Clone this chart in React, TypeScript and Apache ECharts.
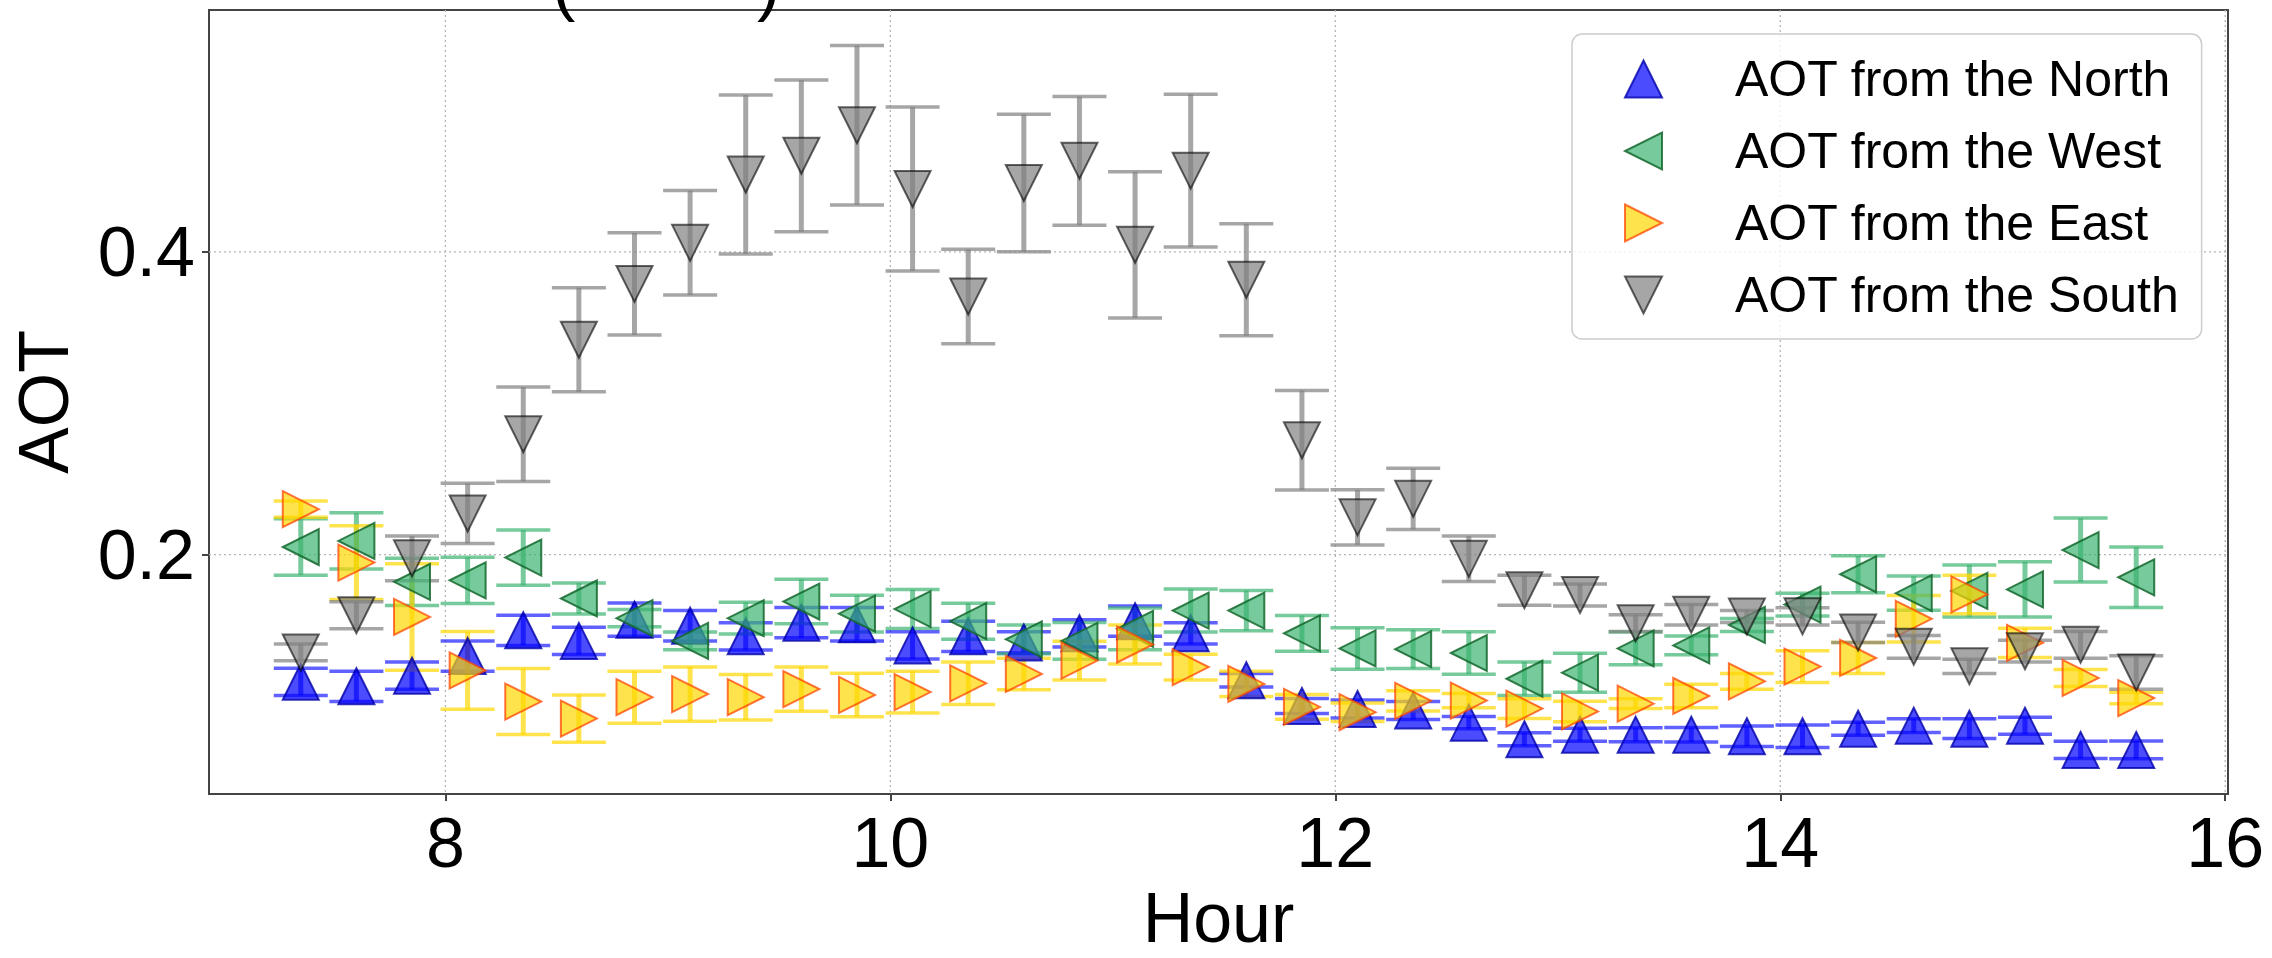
import React, { useEffect, useRef } from "react";
import * as echarts from "echarts";

// ---- Data ----
const hours = [7.35, 7.6, 7.85, 8.1, 8.35, 8.6, 8.85, 9.1, 9.35, 9.6, 9.85, 10.1, 10.35, 10.6, 10.85, 11.1, 11.35, 11.6, 11.85, 12.1, 12.35, 12.6, 12.85, 13.1, 13.35, 13.6, 13.85, 14.1, 14.35, 14.6, 14.85, 15.1, 15.35, 15.6];

const northAOT = [0.116, 0.113, 0.12, 0.133, 0.15, 0.143, 0.157, 0.153, 0.146, 0.155, 0.154, 0.14, 0.146, 0.142, 0.148, 0.156, 0.148, 0.117, 0.1, 0.098, 0.097, 0.089, 0.078, 0.081, 0.081, 0.081, 0.08, 0.08, 0.085, 0.087, 0.085, 0.087, 0.071, 0.071];
const northErr = [0.009, 0.01, 0.009, 0.01, 0.01, 0.009, 0.011, 0.01, 0.009, 0.01, 0.011, 0.009, 0.01, 0.007, 0.009, 0.01, 0.007, 0.0045, 0.005, 0.006, 0.006, 0.004, 0.0043, 0.0043, 0.0046, 0.0048, 0.0067, 0.0075, 0.0043, 0.0045, 0.0065, 0.0056, 0.0057, 0.0059];

const westAOT = [0.205, 0.209, 0.182, 0.183, 0.198, 0.171, 0.158, 0.143, 0.158, 0.169, 0.161, 0.164, 0.156, 0.144, 0.143, 0.151, 0.163, 0.163, 0.148, 0.138, 0.1375, 0.135, 0.118, 0.122, 0.138, 0.14, 0.1535, 0.167, 0.187, 0.1745, 0.176, 0.177, 0.203, 0.185];
const westErr = [0.0186, 0.0186, 0.0156, 0.0153, 0.0182, 0.0102, 0.0057, 0.0058, 0.0105, 0.0147, 0.0122, 0.0129, 0.0119, 0.0095, 0.0122, 0.0138, 0.0142, 0.0133, 0.0118, 0.0137, 0.0128, 0.014, 0.0111, 0.0129, 0.0108, 0.0062, 0.0043, 0.0075, 0.0122, 0.0113, 0.0172, 0.0183, 0.0211, 0.02];

const eastAOT = [0.23, 0.1947, 0.1588, 0.1235, 0.1029, 0.0917, 0.1058, 0.1079, 0.1058, 0.1112, 0.1073, 0.1092, 0.115, 0.1212, 0.13, 0.1406, 0.1257, 0.1146, 0.0994, 0.0959, 0.1034, 0.1036, 0.0983, 0.0964, 0.1015, 0.1066, 0.1163, 0.126, 0.1317, 0.1576, 0.1737, 0.1417, 0.1185, 0.1052];
const eastErr = [0.0054, 0.0244, 0.0352, 0.0257, 0.0218, 0.0156, 0.0172, 0.0179, 0.015, 0.0146, 0.0144, 0.0138, 0.014, 0.0104, 0.0128, 0.0129, 0.0085, 0.0084, 0.0082, 0.0061, 0.0067, 0.0047, 0.0065, 0.0068, 0.0032, 0.0077, 0.0052, 0.0105, 0.0102, 0.0153, 0.0127, 0.0097, 0.0056, 0.0038];

const southAOT = [0.1354, 0.1599, 0.1975, 0.2272, 0.2795, 0.3419, 0.3788, 0.4059, 0.451, 0.4634, 0.4836, 0.4415, 0.3705, 0.4454, 0.4601, 0.4046, 0.4536, 0.3815, 0.2755, 0.2246, 0.2368, 0.1972, 0.1765, 0.1733, 0.1547, 0.1603, 0.1591, 0.1592, 0.1486, 0.1391, 0.1262, 0.1362, 0.1404, 0.1221];
const southErr = [0.0055, 0.0089, 0.0147, 0.0199, 0.0312, 0.0344, 0.0337, 0.0345, 0.0525, 0.0501, 0.0527, 0.0542, 0.0312, 0.0454, 0.0425, 0.0483, 0.0504, 0.037, 0.0329, 0.0182, 0.0202, 0.015, 0.0099, 0.0073, 0.0055, 0.0068, 0.004, 0.0057, 0.0067, 0.0075, 0.0047, 0.0072, 0.0088, 0.011];

const seriesNames = ["AOT from the North", "AOT from the West", "AOT from the East", "AOT from the South"];
const xTicks = [8, 10, 12, 14, 16];
const yTicks = [0.2, 0.4];
const xRange = [6.9375, 16.0125];
const yRange = [0.0418, 0.5597];

// ---- Styles ----
const FONT = "'Liberation Sans', Arial, Helvetica, sans-serif";
const UP = "path://M5,0 L10,10 L0,10 Z";
const DOWN = "path://M0,0 L10,0 L5,10 Z";
const LEFT = "path://M10,0 L10,10 L0,5 Z";
const RIGHT = "path://M0,0 L10,5 L0,10 Z";

const styles = [
  { symbol: UP, fill: "rgba(0,0,255,0.7)", edge: "rgba(0,0,170,0.8)", bar: "rgba(0,0,255,0.62)" },
  { symbol: LEFT, fill: "rgba(60,179,113,0.7)", edge: "rgba(20,105,45,0.85)", bar: "rgba(60,179,113,0.7)" },
  { symbol: RIGHT, fill: "rgba(255,215,0,0.7)", edge: "rgba(255,69,0,0.75)", bar: "rgba(255,215,0,0.7)" },
  { symbol: DOWN, fill: "rgba(128,128,128,0.7)", edge: "rgba(0,0,0,0.6)", bar: "rgba(128,128,128,0.7)" },
];

function errRender(color: string) {
  return (params: any, api: any) => {
    const x = api.value(0);
    const y = api.value(1);
    const e = api.value(2);
    const top = api.coord([x, y + e]);
    const bot = api.coord([x, y - e]);
    const hw = 27;
    return {
      type: "group",
      children: [
        { type: "line", shape: { x1: top[0], y1: top[1], x2: bot[0], y2: bot[1] }, style: { stroke: color, lineWidth: 5 } },
        { type: "line", shape: { x1: top[0] - hw, y1: top[1], x2: top[0] + hw, y2: top[1] }, style: { stroke: color, lineWidth: 3.5 } },
        { type: "line", shape: { x1: bot[0] - hw, y1: bot[1], x2: bot[0] + hw, y2: bot[1] }, style: { stroke: color, lineWidth: 3.5 } },
      ],
    };
  };
}

export default function App() {
  const ref = useRef<HTMLDivElement>(null);

  useEffect(() => {
    if (!ref.current) return;
    const chart = echarts.init(ref.current, undefined, { renderer: "svg" });

    const values = [northAOT, westAOT, eastAOT, southAOT];
    const errs = [northErr, westErr, eastErr, southErr];

    const series: any[] = [];
    // grid lines (behind everything)
    series.push({
      type: "custom",
      name: "gridX",
      silent: true,
      z: 1,
      encode: { x: 0, y: 1 },
      data: xTicks.map((v) => [v, yRange[0]]),
      renderItem: (params: any, api: any) => {
        const cs = params.coordSys;
        const px = api.coord([api.value(0), api.value(1)])[0];
        return {
          type: "line",
          shape: { x1: px, y1: cs.y, x2: px, y2: cs.y + cs.height },
          style: { stroke: "#b5b5b5", lineWidth: 1.3, lineDash: [2, 3] },
        };
      },
    });
    series.push({
      type: "custom",
      name: "gridY",
      silent: true,
      z: 1,
      encode: { x: 0, y: 1 },
      data: yTicks.map((v) => [xRange[0], v]),
      renderItem: (params: any, api: any) => {
        const cs = params.coordSys;
        const py = api.coord([api.value(0), api.value(1)])[1];
        return {
          type: "line",
          shape: { x1: cs.x, y1: py, x2: cs.x + cs.width, y2: py },
          style: { stroke: "#b5b5b5", lineWidth: 1.3, lineDash: [2, 3] },
        };
      },
    });

    seriesNames.forEach((name, i) => {
      const st = styles[i];
      series.push({
        type: "custom",
        name: name + " error",
        silent: true,
        z: 2,
        dimensions: ["x", "y", "err"],
        encode: { x: 0, y: 1 },
        data: hours.map((h, k) => [h, values[i][k], errs[i][k]]),
        renderItem: errRender(st.bar),
      });
      series.push({
        type: "scatter",
        name,
        z: 2,
        symbol: st.symbol,
        symbolSize: 36,
        itemStyle: { color: st.fill, borderColor: st.edge, borderWidth: 2, opacity: 1 },
        data: hours.map((h, k) => [h, values[i][k]]),
      });
    });

    chart.setOption({
      animation: false,
      backgroundColor: "#ffffff",
      grid: {
        left: 209,
        top: 10,
        width: 2019,
        height: 802,
        show: true,
        borderColor: "#444444",
        borderWidth: 2,
        backgroundColor: "transparent",
      },
      xAxis: {
        type: "value",
        min: xRange[0],
        max: xRange[1],
        splitLine: { show: false },
        axisLine: { show: false },
        axisTick: { show: true, customValues: xTicks, length: 7, lineStyle: { color: "#444", width: 2 } },
        axisLabel: {
          customValues: xTicks,
          fontSize: 70,
          fontFamily: FONT,
          color: "#000",
          margin: 14,
          formatter: (v: number) => String(v),
        },
        name: "Hour",
        nameLocation: "middle",
        nameGap: 88,
        nameTextStyle: { fontSize: 70, fontFamily: FONT, color: "#000" },
      },
      yAxis: {
        type: "value",
        min: yRange[0],
        max: yRange[1],
        splitLine: { show: false },
        axisLine: { show: false },
        axisTick: { show: true, customValues: yTicks, length: 7, lineStyle: { color: "#444", width: 2 } },
        axisLabel: {
          customValues: yTicks,
          fontSize: 70,
          fontFamily: FONT,
          color: "#000",
          margin: 14,
          formatter: (v: number) => v.toFixed(1),
        },
        name: "AOT",
        nameLocation: "middle",
        nameGap: 130,
        nameTextStyle: { fontSize: 70, fontFamily: FONT, color: "#000" },
      },
      legend: {
        show: true,
        orient: "vertical",
        left: 1572,
        top: 34,
        selectedMode: false,
        backgroundColor: "rgba(255,255,255,0.8)",
        borderColor: "#cccccc",
        borderWidth: 1.5,
        borderRadius: 10,
        padding: [20, 22, 19, 52],
        itemWidth: 37,
        itemHeight: 37,
        itemGap: 22,
        textStyle: {
          fontSize: 50,
          fontFamily: FONT,
          color: "#000",
          lineHeight: 50,
          padding: [0, 0, 0, 68],
        },
        data: seriesNames.map((n, i) => ({
          name: n,
          icon: styles[i].symbol,
          itemStyle: { color: styles[i].fill, borderColor: styles[i].edge, borderWidth: 2 },
        })),
      },
      graphic: [
        {
          type: "text",
          left: 552,
          top: -52,
          silent: true,
          style: { text: "(", font: `70px ${FONT}`, fill: "#000" },
        },
        {
          type: "text",
          left: 757,
          top: -52,
          silent: true,
          style: { text: ")", font: `70px ${FONT}`, fill: "#000" },
        },
      ],
      series,
    });

    return () => {
      chart.dispose();
    };
  }, []);

  return (
    <div
      ref={ref}
      style={{ position: "absolute", left: 0, top: 0, width: 2272, height: 958, background: "#fff" }}
    />
  );
}
